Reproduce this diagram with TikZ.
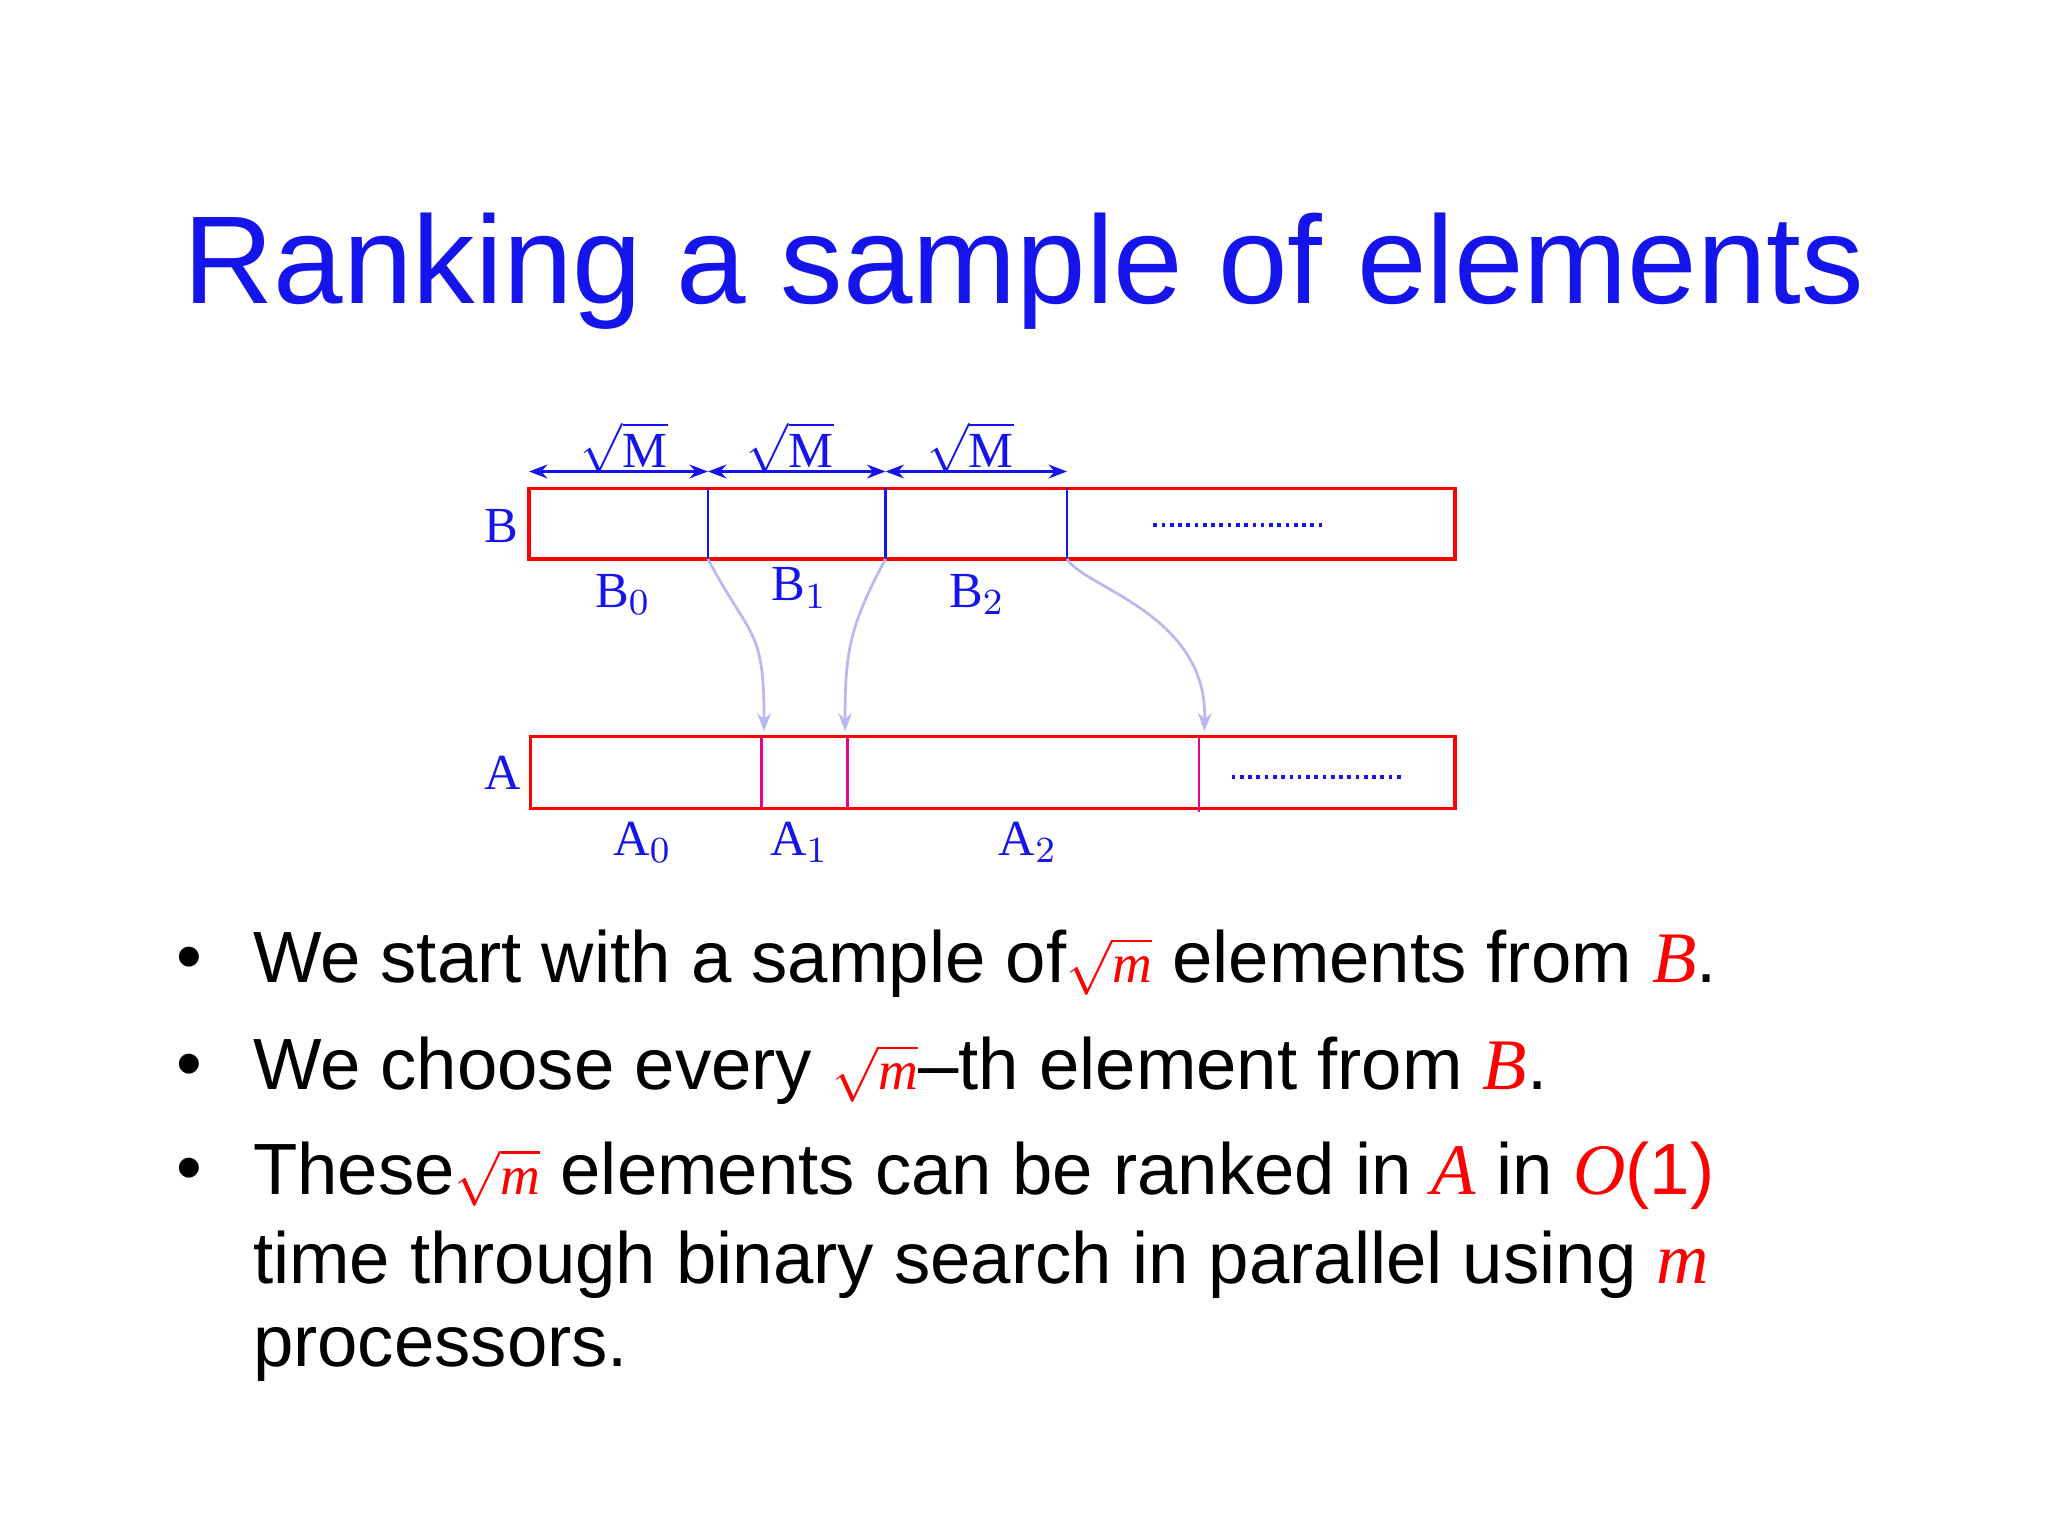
\documentclass[tikz,border=0pt]{standalone}
\usepackage{fontspec}
\setmainfont{Liberation Sans}
\newfontfamily\tms{Liberation Serif}
\usetikzlibrary{arrows.meta}
\definecolor{tb}{RGB}{20,20,235}
\definecolor{lav}{RGB}{185,185,240}
\newcommand{\mi}[1]{{\color{red}\tms\itshape #1}}
\newcommand{\sqm}{{\color{red}\fontsize{12}{14}\selectfont$\sqrt{\mbox{\tms\itshape m}}$}}
\begin{document}
\begin{tikzpicture}[x=0.01cm,y=-0.01cm,
  lab/.style={text=tb,font=\tms\fontsize{11}{12}\selectfont,inner sep=0},
  box/.style={draw=red,line width=0.7pt},
  bt/.style={anchor=west,inner sep=0,font=\fontsize{15.8}{19}\selectfont},
  conn/.style={draw=lav,line width=0.6pt,-{Stealth[length=4pt,width=3pt]}}]
\useasboundingbox (0,0) rectangle (1568,1176);
\node[text=tb,font=\fontsize{27.2}{32}\selectfont,inner sep=0] (title) at (784,208) {Ranking a sample of elements};
% B
\draw[box] (405,374) rectangle (1114,428);
\coordinate (b1t) at (542,374); \coordinate (b1) at (542,428);
\coordinate (b2t) at (678,374); \coordinate (b2) at (678,428);
\coordinate (b3t) at (817,374); \coordinate (b3) at (817,428);
\draw[tb,line width=0.6pt] (b1t)--(b1) (b2t)--(b2) (b3t)--(b3);
\draw[tb,densely dotted,line width=0.8pt] (883,402)--(1015,402);
\coordinate (d0) at (405,361); \coordinate (d1) at (542,361);
\coordinate (d2) at (678,361); \coordinate (d3) at (817,361);
\draw[tb,line width=0.8pt,{Stealth[length=4pt]}-{Stealth[length=4pt]}] (d0)--(d1);
\draw[tb,line width=0.8pt,{Stealth[length=4pt]}-{Stealth[length=4pt]}] (d1)--(d2);
\draw[tb,line width=0.8pt,{Stealth[length=4pt]}-{Stealth[length=4pt]}] (d2)--(d3);
\node[lab] (m1) at (478,343) {$\sqrt{\mbox{M}}$};
\node[lab] (m2) at (605,343) {$\sqrt{\mbox{M}}$};
\node[lab] (m3) at (743,343) {$\sqrt{\mbox{M}}$};
\node[lab] (lB) at (384,403) {B};
\node[lab] (B0) at (477,455) {B$_0$};
\node[lab] (B1) at (612,450) {B$_1$};
\node[lab] (B2) at (748,455) {B$_2$};
% A
\draw[box] (406,564) rectangle (1114,619);
\coordinate (a1) at (583,564); \coordinate (a2) at (649,564); \coordinate (a3) at (918,564);
\draw[magenta,line width=0.6pt] (a1)--(583,619) (a2)--(649,619) (a3)--(918,622);
\draw[tb,densely dotted,line width=0.8pt] (943,595)--(1075,595);
\node[lab] (lA) at (385,592) {A};
\node[lab] (A0) at (492,645) {A$_0$};
\node[lab] (A1) at (612,645) {A$_1$};
\node[lab] (A2) at (787,645) {A$_2$};
\draw[conn] (b1) .. controls (575,490) and (585,480) .. (585,560);
\draw[conn] (b2) .. controls (650,480) and (647,500) .. (647,560);
\draw[conn] (b3) .. controls (830,450) and (925,470) .. (922,560);
% bullets
\foreach \y in {738,820,900} \node[font=\fontsize{16}{20}\selectfont] at (145,\y) {•};
\node[bt] (t1) at (193,738) {We start with a sample of\sqm\ elements from \mi{B}.};
\node[bt] (t2) at (193,820) {We choose every \sqm--th element from \mi{B}.};
\node[bt] (t3) at (193,900) {These\sqm\ elements can be ranked in \mi{A} in \mi{O}{\color{red}(1)}};
\node[bt] (t4) at (193,968) {time through binary search in parallel using \mi{m}};
\node[bt] (t5) at (193,1037) {processors.};
\end{tikzpicture}
\end{document}
